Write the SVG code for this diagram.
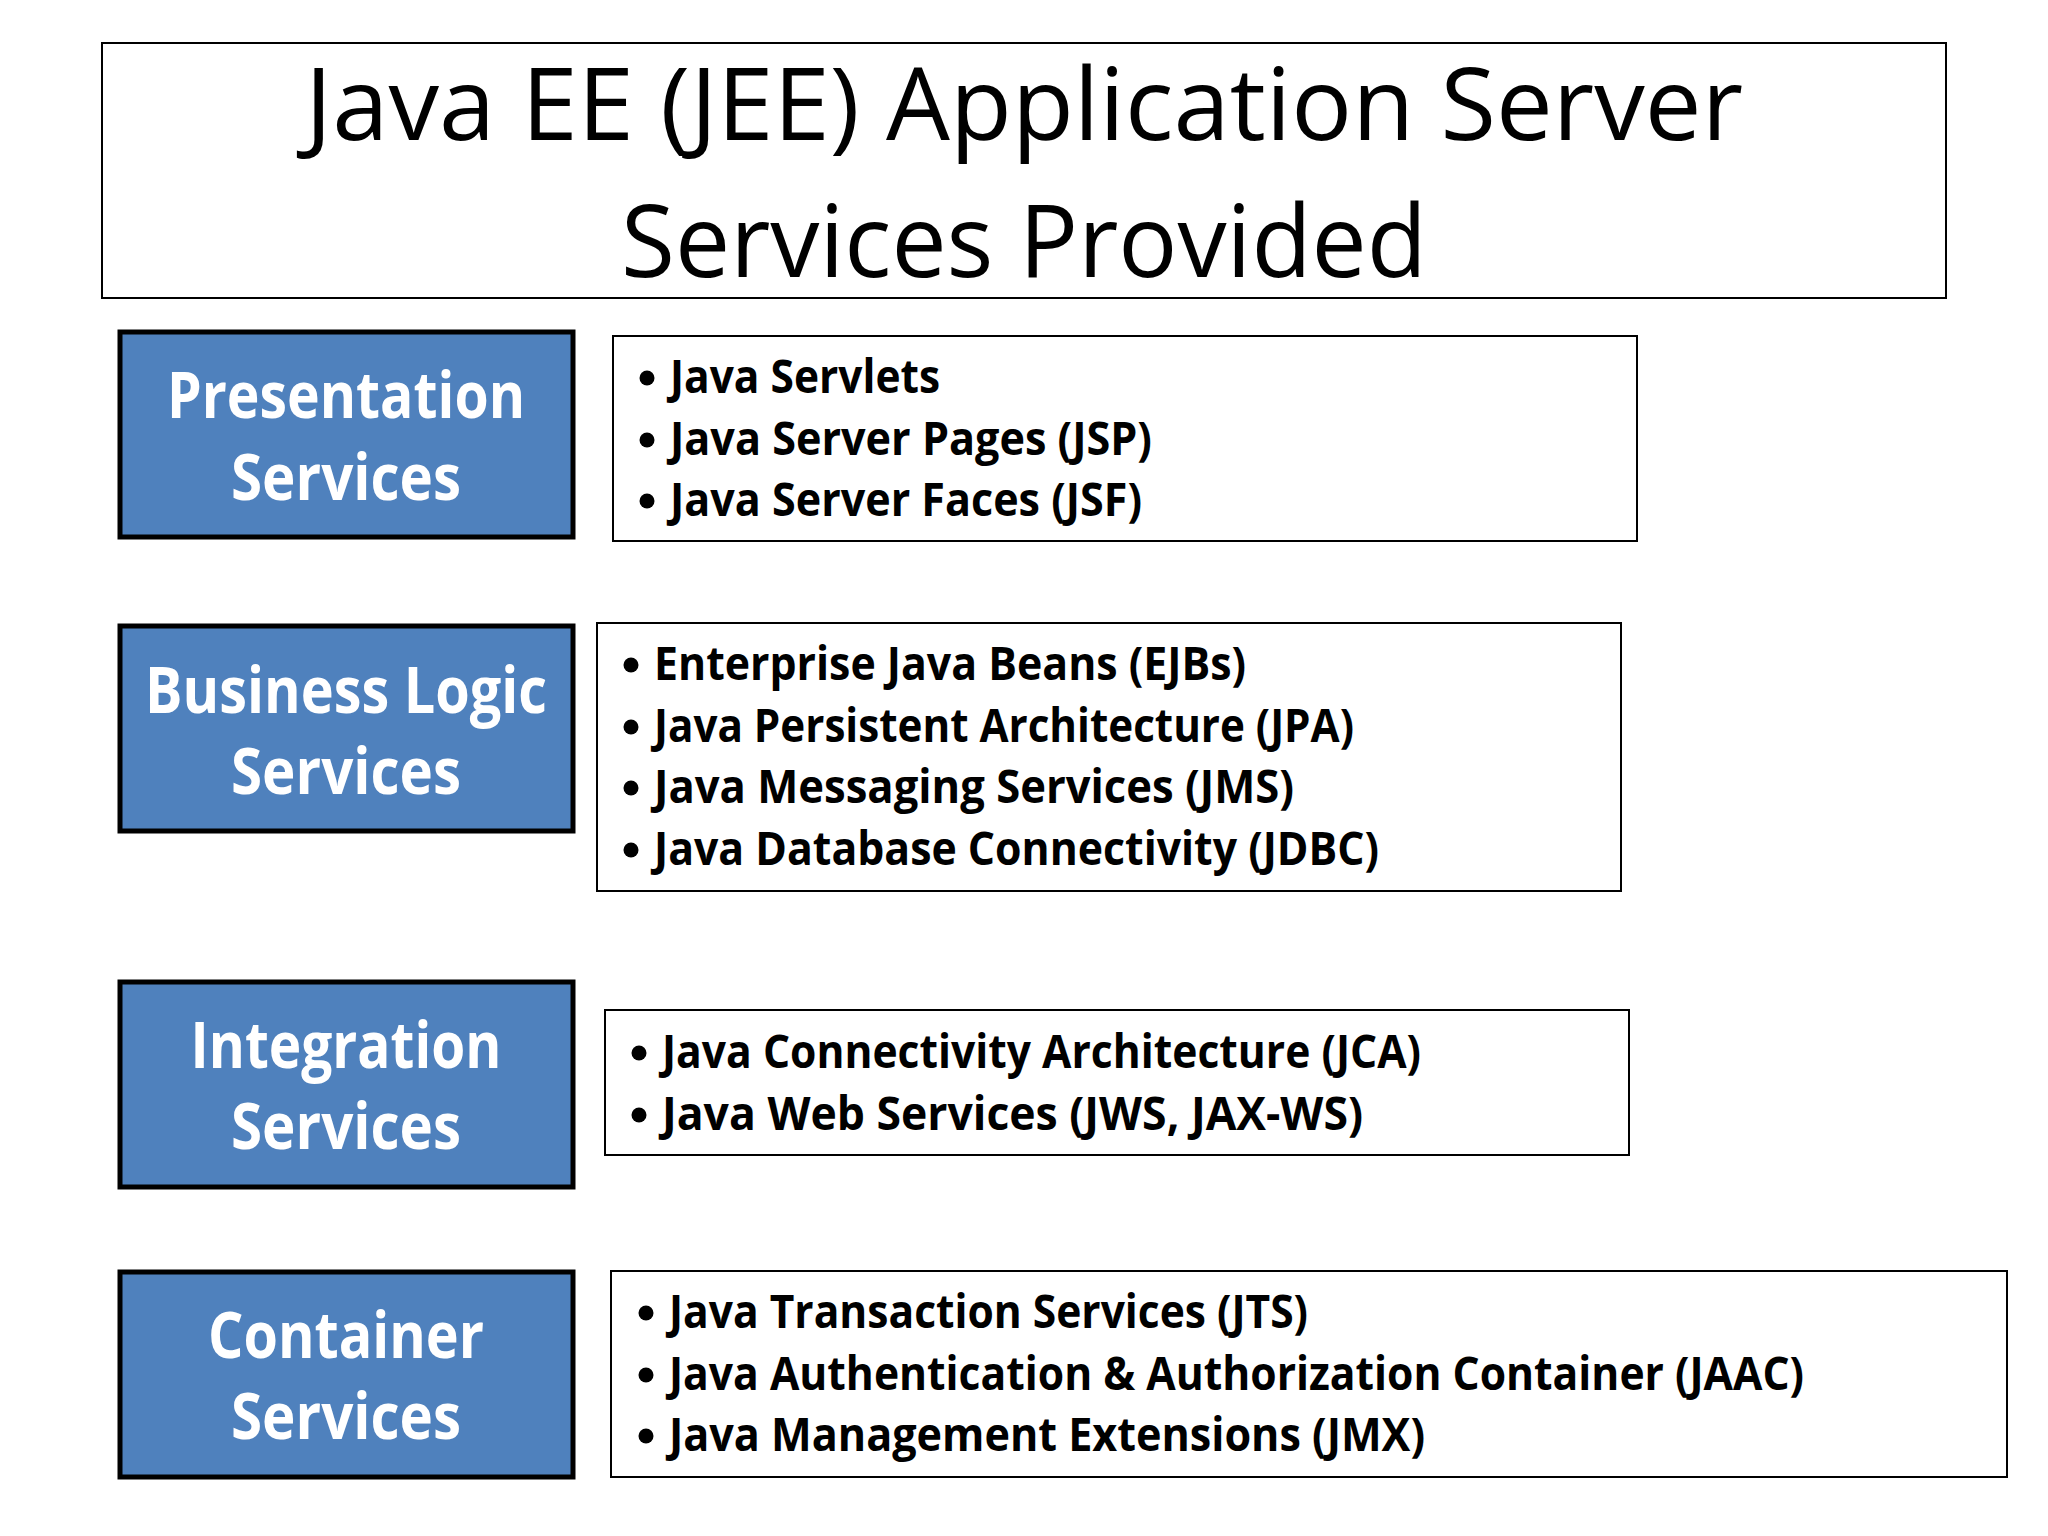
<svg xmlns="http://www.w3.org/2000/svg" width="2048" height="1536" viewBox="0 0 2048 1536">
<style>
.bg{fill:#ffffff}
.frame{fill:#ffffff;stroke:#000000;stroke-width:2}
.cat{fill:#4F81BD;stroke:#000000;stroke-width:5}
.title{font-family:"Open Sans","Noto Sans",sans-serif;font-size:100px;fill:#000000;text-anchor:middle}
.cattxt{font-family:"Open Sans","Noto Sans",sans-serif;font-size:64px;font-weight:bold;fill:#ffffff;text-anchor:middle}
.item{font-family:"Open Sans","Noto Sans",sans-serif;font-size:47px;font-weight:bold;fill:#000000}
.dot{fill:#000000}
</style>
<rect class="bg" x="0" y="0" width="2048" height="1536"/>
<g id="title">
<rect class="frame" x="102" y="43" width="1844" height="255"/>
<text class="title" x="1024" y="140" textLength="1438" lengthAdjust="spacingAndGlyphs">Java EE (JEE) Application Server</text>
<text class="title" x="1024" y="277" textLength="806" lengthAdjust="spacingAndGlyphs">Services Provided</text>
</g>
<g id="presentation">
<rect class="cat" x="120" y="332" width="453" height="205"/>
<text class="cattxt" x="346" y="418" textLength="358" lengthAdjust="spacingAndGlyphs">Presentation</text>
<text class="cattxt" x="346" y="500" textLength="230" lengthAdjust="spacingAndGlyphs">Services</text>
</g>
<g id="presentation-list">
<rect class="frame" x="613" y="336" width="1024" height="205"/>
<circle class="dot" cx="647" cy="378" r="7.5"/>
<circle class="dot" cx="647" cy="440" r="7.5"/>
<circle class="dot" cx="647" cy="501" r="7.5"/>
<text class="item" x="670" y="393" textLength="270" lengthAdjust="spacingAndGlyphs">Java Servlets</text>
<text class="item" x="670" y="455" textLength="482" lengthAdjust="spacingAndGlyphs">Java Server Pages (JSP)</text>
<text class="item" x="670" y="516" textLength="472" lengthAdjust="spacingAndGlyphs">Java Server Faces (JSF)</text>
</g>
<g id="business">
<rect class="cat" x="120" y="626" width="453" height="205"/>
<text class="cattxt" x="346" y="713" textLength="402" lengthAdjust="spacingAndGlyphs">Business Logic</text>
<text class="cattxt" x="346" y="794" textLength="230" lengthAdjust="spacingAndGlyphs">Services</text>
</g>
<g id="business-list">
<rect class="frame" x="597" y="623" width="1024" height="268"/>
<circle class="dot" cx="631" cy="665" r="7.5"/>
<circle class="dot" cx="631" cy="727" r="7.5"/>
<circle class="dot" cx="631" cy="788" r="7.5"/>
<circle class="dot" cx="631" cy="850" r="7.5"/>
<text class="item" x="654" y="680" textLength="592" lengthAdjust="spacingAndGlyphs">Enterprise Java Beans (EJBs)</text>
<text class="item" x="654" y="742" textLength="700" lengthAdjust="spacingAndGlyphs">Java Persistent Architecture (JPA)</text>
<text class="item" x="654" y="803" textLength="640" lengthAdjust="spacingAndGlyphs">Java Messaging Services (JMS)</text>
<text class="item" x="654" y="865" textLength="725" lengthAdjust="spacingAndGlyphs">Java Database Connectivity (JDBC)</text>
</g>
<g id="integration">
<rect class="cat" x="120" y="982" width="453" height="205"/>
<text class="cattxt" x="346" y="1068" textLength="311" lengthAdjust="spacingAndGlyphs">Integration</text>
<text class="cattxt" x="346" y="1149" textLength="230" lengthAdjust="spacingAndGlyphs">Services</text>
</g>
<g id="integration-list">
<rect class="frame" x="605" y="1010" width="1024" height="145"/>
<circle class="dot" cx="639" cy="1053" r="7.5"/>
<circle class="dot" cx="639" cy="1115" r="7.5"/>
<text class="item" x="662" y="1068" textLength="759" lengthAdjust="spacingAndGlyphs">Java Connectivity Architecture (JCA)</text>
<text class="item" x="662" y="1130" textLength="701" lengthAdjust="spacingAndGlyphs">Java Web Services (JWS, JAX-WS)</text>
</g>
<g id="container">
<rect class="cat" x="120" y="1272" width="453" height="205"/>
<text class="cattxt" x="346" y="1358" textLength="276" lengthAdjust="spacingAndGlyphs">Container</text>
<text class="cattxt" x="346" y="1439" textLength="230" lengthAdjust="spacingAndGlyphs">Services</text>
</g>
<g id="container-list">
<rect class="frame" x="611" y="1271" width="1396" height="206"/>
<circle class="dot" cx="646" cy="1313" r="7.5"/>
<circle class="dot" cx="646" cy="1375" r="7.5"/>
<circle class="dot" cx="646" cy="1436" r="7.5"/>
<text class="item" x="669" y="1328" textLength="639" lengthAdjust="spacingAndGlyphs">Java Transaction Services (JTS)</text>
<text class="item" x="669" y="1390" textLength="1135" lengthAdjust="spacingAndGlyphs">Java Authentication &amp; Authorization Container (JAAC)</text>
<text class="item" x="669" y="1451" textLength="756" lengthAdjust="spacingAndGlyphs">Java Management Extensions (JMX)</text>
</g>
<g id="connectors"></g>
</svg>
